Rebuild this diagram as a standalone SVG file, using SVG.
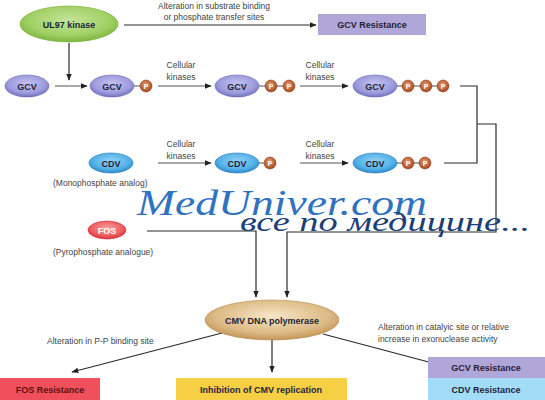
<svg xmlns="http://www.w3.org/2000/svg" width="545" height="400" viewBox="0 0 545 400">
<defs>
<radialGradient id="gGreen" cx="50%" cy="40%" r="60%"><stop offset="0" stop-color="#c4e59a"/><stop offset="0.7" stop-color="#9fd064"/><stop offset="1" stop-color="#7cb63e"/></radialGradient>
<radialGradient id="gLav" cx="50%" cy="40%" r="60%"><stop offset="0" stop-color="#c4c3ef"/><stop offset="0.7" stop-color="#9d9bdc"/><stop offset="1" stop-color="#7471c0"/></radialGradient>
<radialGradient id="gBlue" cx="50%" cy="40%" r="60%"><stop offset="0" stop-color="#8fd3f6"/><stop offset="0.7" stop-color="#52b0e6"/><stop offset="1" stop-color="#2a88cc"/></radialGradient>
<radialGradient id="gRed" cx="50%" cy="40%" r="60%"><stop offset="0" stop-color="#f7a0a0"/><stop offset="0.7" stop-color="#ee5c5e"/><stop offset="1" stop-color="#d8343a"/></radialGradient>
<radialGradient id="gTan" cx="50%" cy="40%" r="60%"><stop offset="0" stop-color="#f6e6c8"/><stop offset="0.7" stop-color="#ddbb85"/><stop offset="1" stop-color="#c39558"/></radialGradient>
<radialGradient id="gP" cx="45%" cy="40%" r="60%"><stop offset="0" stop-color="#e89a6a"/><stop offset="1" stop-color="#a8481f"/></radialGradient>
<marker id="arr" viewBox="0 0 10 10" refX="9" refY="5" markerWidth="7" markerHeight="7" markerUnits="userSpaceOnUse" orient="auto"><path d="M0,1 L10,5 L0,9 z" fill="#222"/></marker>
</defs>
<style>
.lbl{font-family:"Liberation Sans",Arial,sans-serif;font-size:8.5px;fill:#444;}
.b{font-family:"Liberation Sans",Arial,sans-serif;font-weight:bold;font-size:9px;fill:#1f1f3a;text-anchor:middle;}
.pt{font-family:"Liberation Sans",Arial,sans-serif;font-weight:bold;font-size:7px;fill:#fff;text-anchor:middle;}
.ln{stroke:#2a2a2a;stroke-width:1.2;fill:none;}
.thin{stroke:#555;stroke-width:1;fill:none;}
.p{fill:url(#gP);stroke:#7a3010;stroke-width:0.5;}
.lav{fill:url(#gLav);stroke:#6a68b4;stroke-width:0.6;}
.blu{fill:url(#gBlue);stroke:#2478b8;stroke-width:0.6;}
.wm{font-family:"Liberation Serif","Times New Roman",serif;font-style:italic;}
</style>
<rect width="545" height="400" fill="#fff"/>

<g id="connectors">
<line class="ln" x1="124" y1="25" x2="316" y2="25" marker-end="url(#arr)"/>
<line class="ln" x1="69" y1="43" x2="69" y2="80" marker-end="url(#arr)"/>
<line class="thin" x1="55" y1="86" x2="87" y2="86" marker-end="url(#arr)"/>
<line class="thin" x1="158" y1="86" x2="211" y2="86" marker-end="url(#arr)"/>
<line class="thin" x1="300" y1="86" x2="348" y2="86" marker-end="url(#arr)"/>
<line class="thin" x1="158" y1="163" x2="211" y2="163" marker-end="url(#arr)"/>
<line class="thin" x1="300" y1="163" x2="348" y2="163" marker-end="url(#arr)"/>
<polyline class="ln" points="460,86 477,86 477,163 444,163"/>
<polyline class="ln" points="477,124 496,124 496,232 287,232 287,297" marker-end="url(#arr)"/>
<polyline class="ln" points="147,231 256,231 256,297" marker-end="url(#arr)"/>
<line class="ln" x1="272" y1="340" x2="272" y2="372" marker-end="url(#arr)"/>
<line class="ln" x1="222" y1="333" x2="72" y2="372" marker-end="url(#arr)"/>
<line class="ln" x1="323" y1="334" x2="440" y2="365" marker-end="url(#arr)"/>
</g>

<g id="label-ul97-arrow">
<text class="lbl" x="214" y="9" text-anchor="middle">Alteration in substrate binding</text>
<text class="lbl" x="214" y="20" text-anchor="middle">or phosphate transfer sites</text>
</g>
<g id="kin-labels">
<text class="lbl" x="181" y="68" text-anchor="middle">Cellular</text>
<text class="lbl" x="181" y="80" text-anchor="middle">kinases</text>
<text class="lbl" x="320" y="68" text-anchor="middle">Cellular</text>
<text class="lbl" x="320" y="80" text-anchor="middle">kinases</text>
<text class="lbl" x="181" y="147" text-anchor="middle">Cellular</text>
<text class="lbl" x="181" y="159" text-anchor="middle">kinases</text>
<text class="lbl" x="320" y="147" text-anchor="middle">Cellular</text>
<text class="lbl" x="320" y="159" text-anchor="middle">kinases</text>
</g>

<g id="ul97">
<ellipse cx="69" cy="24" rx="49" ry="18" fill="url(#gGreen)" stroke="#7cb040" stroke-width="0.6"/>
<text class="b" x="69" y="28" font-size="9.5">UL97 kinase</text>
</g>
<g id="gcv-res-top">
<rect x="318" y="14" width="108" height="21" fill="#b1a6d8"/>
<text class="b" x="372" y="28">GCV Resistance</text>
</g>

<g id="gcv1"><ellipse class="lav" cx="27" cy="86" rx="22" ry="11"/><text class="b" x="27" y="89.5">GCV</text></g>
<g id="gcv2">
<ellipse class="lav" cx="112" cy="86" rx="22" ry="11"/><text class="b" x="112" y="89.5">GCV</text>
<line class="thin" x1="134" y1="86" x2="140" y2="86"/>
<circle class="p" cx="146" cy="86" r="6"/><text class="pt" x="146" y="88.5">P</text>
</g>
<g id="gcv3">
<ellipse class="lav" cx="237" cy="86" rx="22" ry="11"/><text class="b" x="237" y="89.5">GCV</text>
<line class="thin" x1="259" y1="86" x2="289" y2="86"/>
<circle class="p" cx="271" cy="86" r="6"/><text class="pt" x="271" y="88.5">P</text>
<circle class="p" cx="289" cy="86" r="6"/><text class="pt" x="289" y="88.5">P</text>
</g>
<g id="gcv4">
<ellipse class="lav" cx="375" cy="86" rx="22" ry="11"/><text class="b" x="375" y="89.5">GCV</text>
<line class="thin" x1="397" y1="86" x2="443" y2="86"/>
<circle class="p" cx="408" cy="86" r="6"/><text class="pt" x="408" y="88.5">P</text>
<circle class="p" cx="426" cy="86" r="6"/><text class="pt" x="426" y="88.5">P</text>
<circle class="p" cx="443" cy="86" r="6"/><text class="pt" x="443" y="88.5">P</text>
</g>

<g id="cdv1">
<ellipse class="blu" cx="111" cy="163" rx="22" ry="10"/><text class="b" x="111" y="166.5">CDV</text>
<text class="lbl" x="53" y="186">(Monophosphate analog)</text>
</g>
<g id="cdv2">
<ellipse class="blu" cx="237" cy="163" rx="22" ry="10"/><text class="b" x="237" y="166.5">CDV</text>
<line class="thin" x1="259" y1="163" x2="264" y2="163"/>
<circle class="p" cx="270" cy="163" r="6"/><text class="pt" x="270" y="165.5">P</text>
</g>
<g id="cdv3">
<ellipse class="blu" cx="375" cy="163" rx="22" ry="10"/><text class="b" x="375" y="166.5">CDV</text>
<line class="thin" x1="397" y1="163" x2="425" y2="163"/>
<circle class="p" cx="408" cy="163" r="6"/><text class="pt" x="408" y="165.5">P</text>
<circle class="p" cx="425" cy="163" r="6"/><text class="pt" x="425" y="165.5">P</text>
</g>

<g id="fos">
<ellipse cx="107" cy="230" rx="19" ry="9" fill="url(#gRed)" stroke="#c82a30" stroke-width="0.6"/>
<text class="b" x="107" y="233.5" style="fill:#fff">FOS</text>
<text class="lbl" x="53" y="255">(Pyrophosphate analogue)</text>
</g>

<g id="watermark">
<text class="wm" x="137" y="215" font-size="36" fill="#2f72c0" textLength="290" lengthAdjust="spacingAndGlyphs">MedUniver.com</text>
<text class="wm" x="240" y="231" font-size="27" fill="#1d3f75" textLength="290" lengthAdjust="spacingAndGlyphs">все по медицине...</text>
</g>

<g id="cmv-pol">
<ellipse cx="272" cy="320" rx="67" ry="20" fill="url(#gTan)" stroke="#b88a50" stroke-width="0.6"/>
<text class="b" x="272" y="323.5" font-size="9.5">CMV DNA polymerase</text>
</g>

<g id="labels-bottom">
<text class="lbl" x="47" y="344">Alteration in P-P binding site</text>
<text class="lbl" x="378" y="330">Alteration in catalyic site or relative</text>
<text class="lbl" x="378" y="342">increase in exonuclease activity</text>
</g>

<g id="fos-res"><rect x="0" y="378" width="100" height="22" fill="#f0505c"/><text class="b" x="50" y="393" style="fill:#5a1010">FOS Resistance</text></g>
<g id="inhib"><rect x="176" y="378" width="171" height="22" fill="#f6cf45"/><text class="b" x="261" y="393">Inhibition of CMV replication</text></g>
<g id="gcv-res"><rect x="428" y="357" width="117" height="21" fill="#b1a6d8"/><text class="b" x="486" y="371">GCV Resistance</text></g>
<g id="cdv-res"><rect x="428" y="378" width="117" height="22" fill="#a3dcf6"/><text class="b" x="486" y="393">CDV Resistance</text></g>
</svg>
